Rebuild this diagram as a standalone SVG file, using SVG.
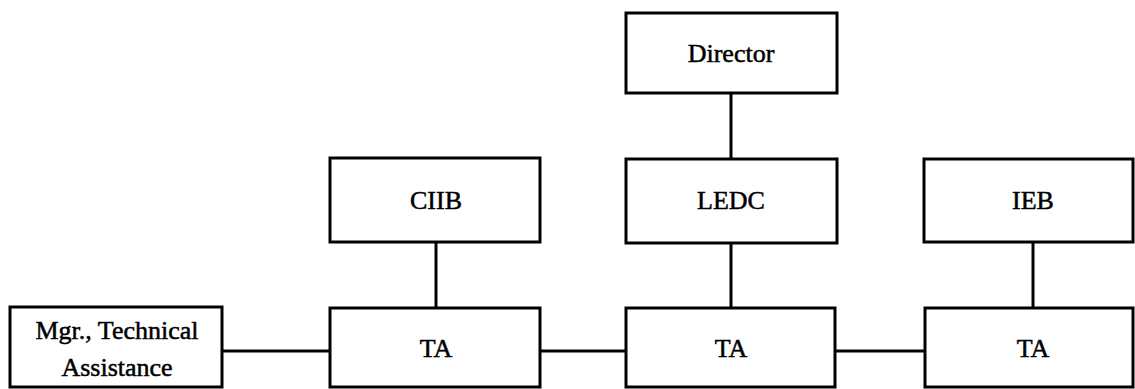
<svg xmlns="http://www.w3.org/2000/svg" width="1135" height="389" viewBox="0 0 1135 389">
<style>
.box{fill:#fff;stroke:#000;stroke-width:3}
.ln{stroke:#000;stroke-width:3;fill:none}
text{font-family:"Liberation Serif","Times New Roman",serif;font-size:26px;fill:#000;stroke:#000;stroke-width:0.5;text-anchor:middle}
</style>
<rect width="1135" height="389" fill="#fff"/>
<g id="connectors">
<line class="ln" x1="731" y1="93" x2="731" y2="159"/>
<line class="ln" x1="731" y1="243" x2="731" y2="308"/>
<line class="ln" x1="436" y1="242" x2="436" y2="308"/>
<line class="ln" x1="1033" y1="242" x2="1033" y2="308"/>
<line class="ln" x1="222" y1="351" x2="330" y2="351"/>
<line class="ln" x1="540" y1="351" x2="626" y2="351"/>
<line class="ln" x1="835" y1="351" x2="925" y2="351"/>
</g>
<g id="director">
<rect class="box" x="626" y="13" width="211" height="80"/>
<text x="731" y="62">Director</text>
</g>
<g id="ciib">
<rect class="box" x="330" y="158" width="210" height="84"/>
<text x="436" y="209">CIIB</text>
</g>
<g id="ledc">
<rect class="box" x="626" y="159" width="211" height="84"/>
<text x="731" y="209">LEDC</text>
</g>
<g id="ieb">
<rect class="box" x="924" y="159" width="209" height="83"/>
<text x="1033" y="209">IEB</text>
</g>
<g id="mgr">
<rect class="box" x="10" y="307" width="212" height="80"/>
<text x="117" y="339">Mgr., Technical</text>
<text x="117" y="376">Assistance</text>
</g>
<g id="ta1">
<rect class="box" x="330" y="308" width="210" height="79"/>
<text x="436" y="357">TA</text>
</g>
<g id="ta2">
<rect class="box" x="626" y="308" width="209" height="79"/>
<text x="731" y="357">TA</text>
</g>
<g id="ta3">
<rect class="box" x="925" y="308" width="208" height="79"/>
<text x="1033" y="357">TA</text>
</g>
</svg>
